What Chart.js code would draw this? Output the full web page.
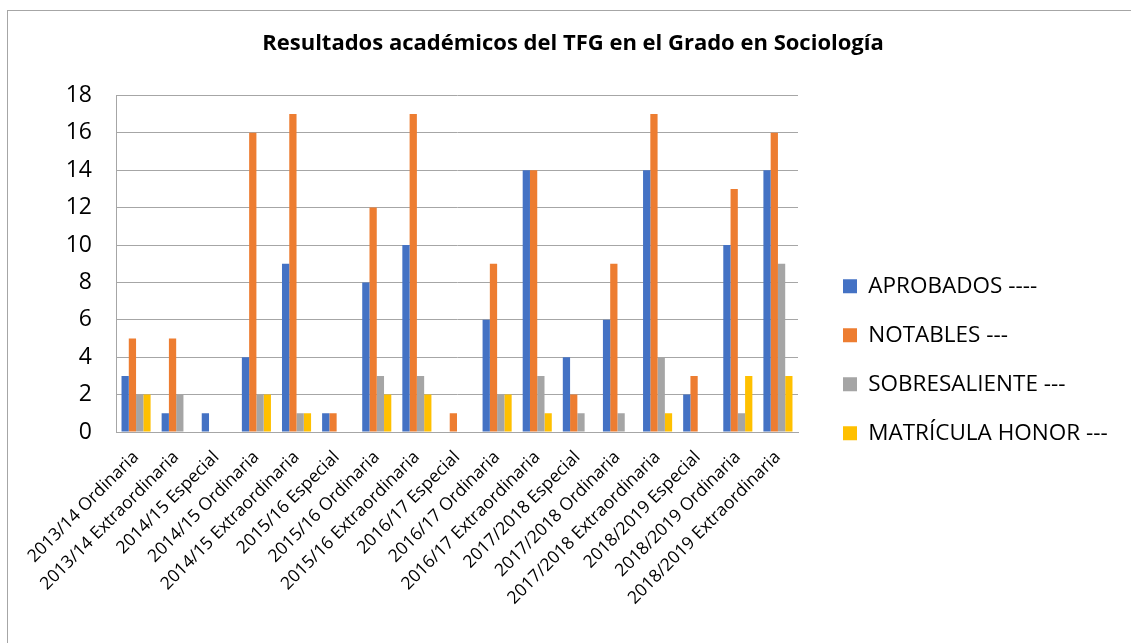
<!DOCTYPE html>
<html>
<head>
<meta charset="utf-8">
<script src="https://cdn.jsdelivr.net/npm/chart.js@4"></script>
<style>
  html, body { margin: 0; padding: 0; background: #fff; }
  #wrap { position: relative; width: 1131px; height: 643px; overflow: hidden; }
  #frame { position: absolute; left: 7px; top: 10px; width: 1200px; height: 700px; border: 1px solid #a6a6a6; box-sizing: border-box; pointer-events: none; }
</style>
</head>
<body>
<div id="wrap">
  <canvas id="c" width="1131" height="643"></canvas>
  <div id="frame"></div>
</div>
<script>
// convocatorias
const labels = [
  "2013/14 Ordinaria", "2013/14 Extraordinaria", "2014/15 Especial",
  "2014/15 Ordinaria", "2014/15 Extraordinaria", "2015/16 Especial",
  "2015/16 Ordinaria", "2015/16 Extraordinaria", "2016/17 Especial",
  "2016/17 Ordinaria", "2016/17 Extraordinaria", "2017/2018 Especial",
  "2017/2018 Ordinaria", "2017/2018 Extraordinaria", "2018/2019 Especial",
  "2018/2019 Ordinaria", "2018/2019 Extraordinaria"
];
const aprobados     = [3, 1, 1, 4, 9, 1, 8, 10, 0, 6, 14, 4, 6, 14, 2, 10, 14];
const notables      = [5, 5, 0, 16, 17, 1, 12, 17, 1, 9, 14, 2, 9, 17, 3, 13, 16];
const sobresaliente = [2, 2, 0, 2, 1, 0, 3, 3, 0, 2, 3, 1, 1, 4, 0, 1, 9];
const matricula     = [2, 0, 0, 2, 1, 0, 2, 2, 0, 2, 1, 0, 0, 1, 0, 3, 3];
const yTicks = [0, 2, 4, 6, 8, 10, 12, 14, 16, 18];

const FONT = "'Open Sans', Lato, sans-serif";
const GRID = "#a6a6a6";
const LEG_SIZE = 22.5;
const PLOT_RIGHT = 798, LEGEND_X = 843, LEGEND_Y = 275, LEG_PAD = 49 - LEG_SIZE;

// excel-style legend: fixed width, pushed a bit away from the plot
const fixLegend = {
  id: "fixLegend",
  afterInit(chart) {
    const lg = chart.legend; const fit = lg.fit.bind(lg);
    lg.fit = function () { fit(); this.width = 1131 - PLOT_RIGHT; };
  },
  afterLayout(chart) {
    const lg = chart.legend;
    lg.left = LEGEND_X - LEG_PAD; lg.right = 1131;
    lg.top = LEGEND_Y - LEG_PAD; lg.bottom = 643;
  }
};

const ds = (label, data, color) => ({ label, data, backgroundColor: color, borderWidth: 0, categoryPercentage: 0.725, barPercentage: 1 });

new Chart(document.getElementById("c"), {
  type: "bar",
  data: {
    labels,
    datasets: [
      ds("APROBADOS ----", aprobados, "#4472c4"),
      ds("NOTABLES ---", notables, "#ed7d31"),
      ds("SOBRESALIENTE ---", sobresaliente, "#a5a5a5"),
      ds("MATRÍCULA HONOR ---", matricula, "#ffc000"),
    ]
  },
  options: {
    responsive: false, animation: false, events: [],
    layout: { padding: { left: 15, right: 0, top: 0, bottom: 0 } },
    plugins: {
      title: { display: true, text: "Resultados académicos del TFG en el Grado en Sociología", color: "#000",
        font: { family: FONT, size: 22, weight: "bold" }, padding: { top: 31, bottom: 38 } },
      legend: { display: true, position: "right", align: "start",
        labels: { color: "#000", font: { family: FONT, size: LEG_SIZE }, boxWidth: 14, boxHeight: 14, padding: LEG_PAD } },
      tooltip: { enabled: false }
    },
    scales: {
      x: {
        grid: { display: false, drawTicks: false },
        border: { display: true, color: GRID },
        ticks: { autoSkip: false, maxRotation: 45, minRotation: 45, padding: 15, color: "#000", font: { family: FONT, size: 17.5 } },
        afterFit: (s) => { s.height = 643 - 432; }
      },
      y: {
        min: 0, max: 18,
        grid: { color: GRID, drawTicks: false },
        border: { display: true, color: GRID },
        afterBuildTicks: (s) => { s.ticks = yTicks.map((v) => ({ value: v })); },
        ticks: { padding: 24, color: "#000", font: { family: FONT, size: 23 } },
        afterFit: (s) => { s.width = 116 - 15; }
      }
    }
  },
  plugins: [fixLegend]
});
</script>
</body>
</html>
